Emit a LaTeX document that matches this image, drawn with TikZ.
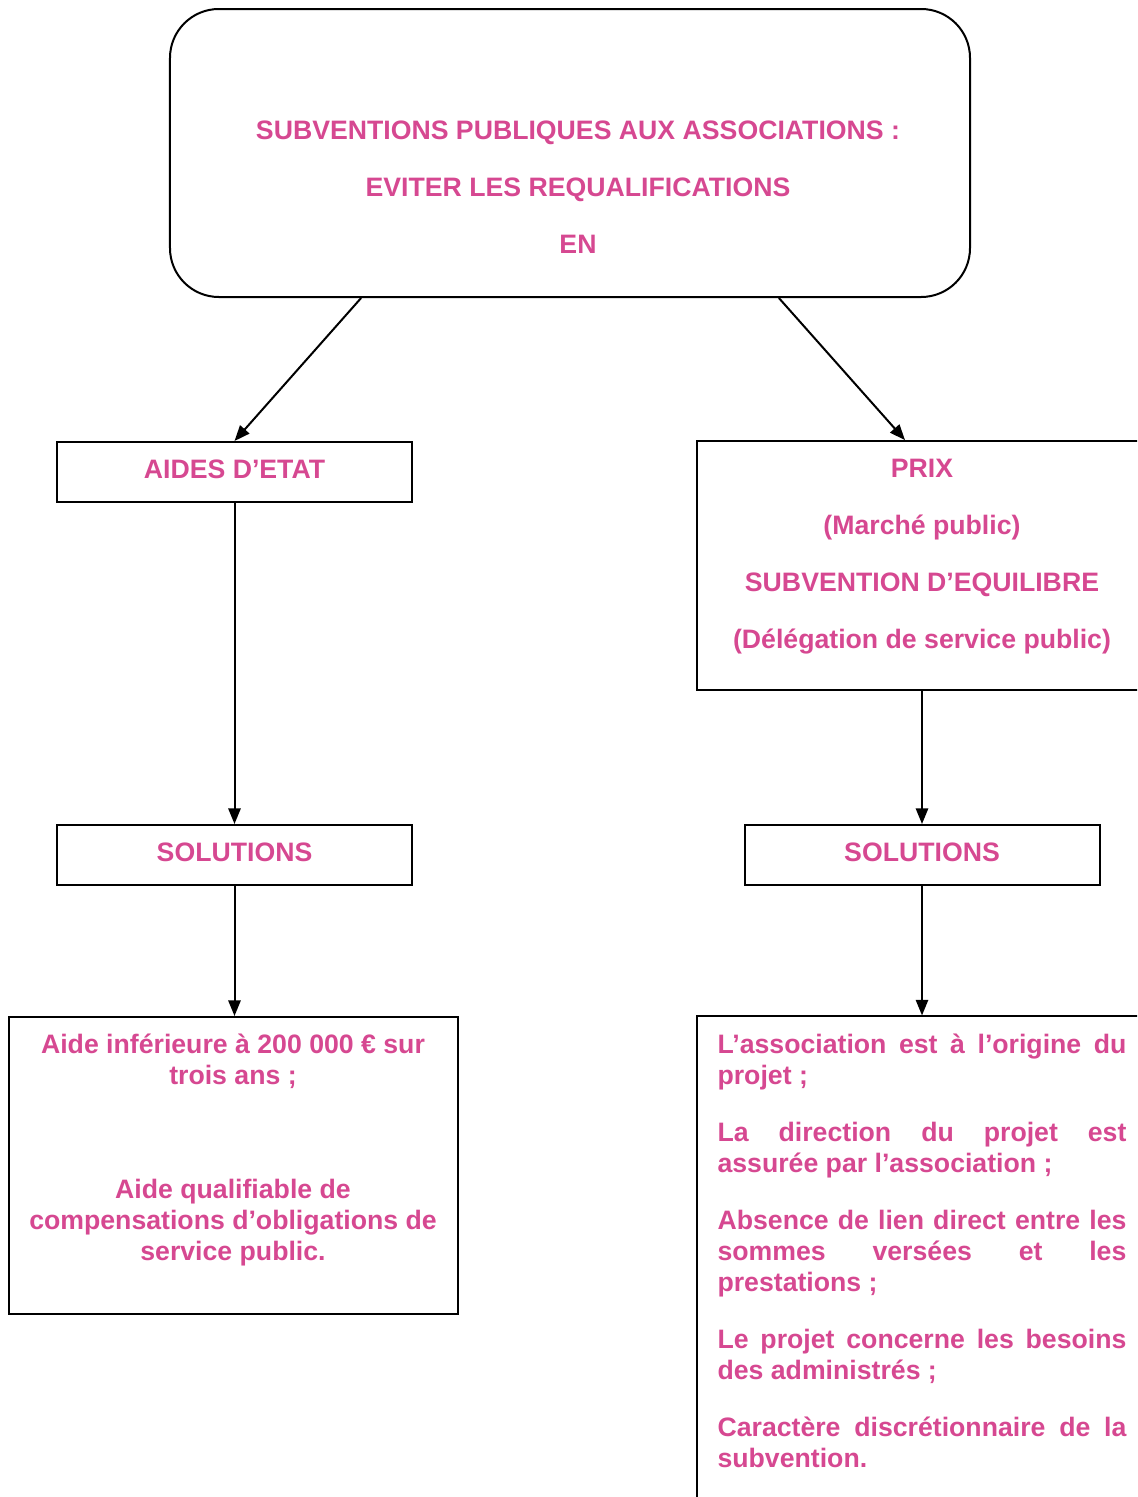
\documentclass[tikz,border=0pt]{standalone}
\usepackage{fontspec}
\setmainfont{Liberation Sans}
\usetikzlibrary{arrows.meta}
\definecolor{rose}{RGB}{214,72,145}
\begin{document}
\begin{tikzpicture}[x=0.45pt,y=-0.45pt,
  cadre/.style={draw,line width=0.9pt,inner sep=0pt},
  texte/.style={text=rose,inner sep=0pt,font=\bfseries\fontsize{12}{13.95}\selectfont},
  etiquette/.style={cadre,texte,minimum width=159.75pt,minimum height=27pt,text depth=2.7pt},
  large/.style={texte,align=center,font=\bfseries\fontsize{12}{25.65}\selectfont},
  fleche/.style={line width=0.9pt,-{Triangle[length=7pt,width=5.5pt]}},
  ]
\useasboundingbox (0,0) rectangle (1137,1497);
\clip (0,0) rectangle (1137,1497);
% les cadres
\node[cadre,rounded corners=22pt,minimum width=360pt,minimum height=129.6pt] (titre) at (570,153) {};
\node[etiquette] (aides) at (234.5,472) {AIDES D’ETAT};
\node[cadre,minimum width=202.5pt,minimum height=112pt] (prix) at (922,565.5) {};
\node[etiquette] (solg) at (234.5,855) {SOLUTIONS};
\node[etiquette] (sold) at (922,855) {SOLUTIONS};
\node[cadre,minimum width=202pt,minimum height=133.65pt] (basg) at (233.5,1165.5) {};
\node[cadre,minimum width=202.5pt,minimum height=230pt] (basd) at (922,1272) {};
% les textes
\node[large] (titretxt) at (578,187.5) {SUBVENTIONS PUBLIQUES AUX ASSOCIATIONS :\\EVITER LES REQUALIFICATIONS\\EN};
\node[large] (prixtxt) at (922,557) {PRIX\\(Marché public)\\SUBVENTION D’EQUILIBRE\\(Délégation de service public)};
\node[texte,align=center,anchor=north] (basgtxt) at (233,1033)
  {Aide inférieure à 200 000 € sur\\trois ans ;\\[37.35pt]Aide qualifiable de\\compensations d’obligations de\\service public.};
\node[texte,anchor=north,text width=184pt,align=justify] (basdtxt) at (922,1033)
  {\parindent=0pt\parskip=11.7pt\hyphenpenalty=10000
  L’association est à l’origine du\linebreak projet ;\par
  La direction du projet est\linebreak assurée par l’association ;\par
  Absence de lien direct entre les\linebreak sommes versées et les\linebreak prestations ;\par
  Le projet concerne les besoins\linebreak des administrés ;\par
  Caractère discrétionnaire de la\linebreak subvention.};
% les fleches
\draw[fleche] ([xshift=-94pt]titre.south) -- (aides.north);
\draw[fleche] ([xshift=94pt]titre.south) -- ([xshift=-7.65pt]prix.north);
\draw[fleche] (aides) -- (solg);
\draw[fleche] (prix) -- (sold);
\draw[fleche] (solg) -- (basg.north -| solg.south);
\draw[fleche] (sold) -- (basd.north -| sold.south);
\end{tikzpicture}
\end{document}
